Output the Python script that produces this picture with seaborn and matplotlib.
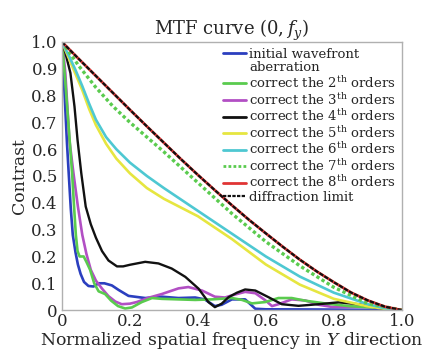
import matplotlib
matplotlib.use("Agg")
import matplotlib.pyplot as plt
import seaborn as sns
from matplotlib.lines import Line2D

# MTF curves (normalized spatial frequency vs contrast)
x_init = [0, 0.008, 0.015, 0.02, 0.026, 0.032, 0.04, 0.047, 0.055, 0.065, 0.078, 0.093, 0.108,
          0.125, 0.147, 0.167, 0.196, 0.245, 0.294, 0.343, 0.392, 0.42, 0.45, 0.47, 0.5, 0.539,
          0.569, 0.6, 0.8, 1.0]
y_init = [1.0, 0.8, 0.62, 0.51, 0.38, 0.28, 0.215, 0.17, 0.135, 0.105, 0.09, 0.088, 0.1,
          0.1, 0.092, 0.075, 0.053, 0.045, 0.05, 0.045, 0.047, 0.04, 0.015, 0.02, 0.04, 0.04,
          0.005, 0.003, 0.002, 0.0]

x_2nd = [0, 0.01, 0.02, 0.03, 0.036, 0.041, 0.046, 0.052, 0.064, 0.072, 0.083, 0.095, 0.108,
         0.127, 0.145, 0.165, 0.186, 0.206, 0.235, 0.265, 0.294, 0.343, 0.392, 0.441, 0.5,
         0.53, 0.559, 0.598, 0.637, 0.676, 0.716, 0.774, 0.843, 0.941, 1.0]
y_2nd = [1.0, 0.85, 0.68, 0.51, 0.38, 0.28, 0.22, 0.2, 0.2, 0.18, 0.15, 0.1, 0.07,
         0.06, 0.035, 0.015, 0.006, 0.01, 0.03, 0.045, 0.042, 0.04, 0.038, 0.04, 0.045,
         0.038, 0.025, 0.03, 0.045, 0.045, 0.035, 0.025, 0.015, 0.008, 0.0]

x_3rd = [0, 0.005, 0.01, 0.022, 0.034, 0.047, 0.06, 0.072, 0.085, 0.1, 0.118, 0.137, 0.157,
         0.176, 0.2, 0.22, 0.255, 0.294, 0.343, 0.372, 0.412, 0.45, 0.48, 0.5, 0.539, 0.569,
         0.598, 0.618, 0.637, 0.676, 0.716, 0.755, 0.794, 0.892, 0.97, 1.0]
y_3rd = [1.0, 0.95, 0.884, 0.634, 0.51, 0.386, 0.28, 0.21, 0.15, 0.11, 0.08, 0.052, 0.032,
         0.022, 0.024, 0.03, 0.046, 0.06, 0.081, 0.086, 0.073, 0.05, 0.047, 0.055, 0.068, 0.063,
         0.037, 0.015, 0.022, 0.04, 0.036, 0.02, 0.012, 0.012, 0.005, 0.0]

x_4th = [0, 0.01, 0.025, 0.037, 0.046, 0.057, 0.07, 0.085, 0.1, 0.118, 0.137, 0.162, 0.18,
         0.2, 0.245, 0.284, 0.323, 0.363, 0.402, 0.431, 0.45, 0.47, 0.49, 0.515, 0.539, 0.569,
         0.608, 0.647, 0.696, 0.755, 0.814, 0.873, 0.941, 1.0]
y_4th = [1.0, 0.96, 0.884, 0.759, 0.634, 0.51, 0.386, 0.32, 0.27, 0.22, 0.185, 0.163, 0.163,
         0.169, 0.18, 0.174, 0.155, 0.124, 0.08, 0.03, 0.011, 0.024, 0.048, 0.065, 0.077, 0.073,
         0.048, 0.022, 0.016, 0.022, 0.029, 0.022, 0.006, 0.0]

x_56 = [0, 0.02, 0.04, 0.06, 0.08, 0.1, 0.13, 0.16, 0.2, 0.25, 0.3, 0.4, 0.5, 0.6, 0.7, 0.8,
        0.9, 0.95, 1.0]
y_5th = [1.0, 0.94, 0.88, 0.82, 0.75, 0.69, 0.62, 0.565, 0.51, 0.455, 0.415, 0.35, 0.265,
         0.17, 0.095, 0.042, 0.014, 0.005, 0.0]
y_6th = [1.0, 0.95, 0.895, 0.835, 0.77, 0.71, 0.645, 0.6, 0.55, 0.5, 0.455, 0.37, 0.285,
         0.2, 0.125, 0.065, 0.022, 0.007, 0.0]

x_7th = [0, 0.05, 0.1, 0.15, 0.2, 0.3, 0.4, 0.5, 0.6, 0.7, 0.8, 0.9, 1.0]
y_7th = [1.0, 0.91, 0.83, 0.76, 0.70, 0.59, 0.475, 0.36, 0.255, 0.165, 0.085, 0.025, 0.0]

x_diff = [0, 0.05, 0.1, 0.15, 0.2, 0.25, 0.3, 0.35, 0.4, 0.45, 0.5, 0.55, 0.6, 0.65, 0.7,
          0.75, 0.8, 0.85, 0.9, 0.95, 1.0]
y_diff = [1.0, 0.936, 0.873, 0.81, 0.747, 0.685, 0.624, 0.563, 0.504, 0.447, 0.391, 0.337,
          0.286, 0.236, 0.188, 0.144, 0.104, 0.066, 0.036, 0.013, 0.0]
y_8th = y_diff

labels = ["initial wavefront", "aberration",
          r"correct the 2$^{\mathrm{th}}$ orders", r"correct the 3$^{\mathrm{th}}$ orders",
          r"correct the 4$^{\mathrm{th}}$ orders", r"correct the 5$^{\mathrm{th}}$ orders",
          r"correct the 6$^{\mathrm{th}}$ orders", r"correct the 7$^{\mathrm{th}}$ orders",
          r"correct the 8$^{\mathrm{th}}$ orders", "diffraction limit"]

sns.set_theme(style="white")
plt.rcParams["font.family"] = ["DejaVu Serif"]
plt.rcParams["mathtext.fontset"] = "dejavuserif"

fig = plt.figure(figsize=(4.33, 3.52), dpi=100)
ax = fig.add_axes([0.143, 0.119, 0.785, 0.762])

c_blue, c_green, c_purple = "#2b3fbf", "#5acb4e", "#b24fc4"
c_black, c_yellow, c_cyan, c_red = "#111111", "#e6e640", "#4ec8d2", "#e03434"

sns.lineplot(x=x_init, y=y_init, ax=ax, color=c_blue, lw=1.9, sort=False)
sns.lineplot(x=x_3rd, y=y_3rd, ax=ax, color=c_purple, lw=1.9, sort=False)
sns.lineplot(x=x_2nd, y=y_2nd, ax=ax, color=c_green, lw=1.9, sort=False)
sns.lineplot(x=x_4th, y=y_4th, ax=ax, color=c_black, lw=1.7, sort=False)
sns.lineplot(x=x_56, y=y_5th, ax=ax, color=c_yellow, lw=1.9, sort=False)
sns.lineplot(x=x_56, y=y_6th, ax=ax, color=c_cyan, lw=1.9, sort=False)
sns.lineplot(x=x_7th, y=y_7th, ax=ax, color=c_green, lw=2.4, ls=(0, (1, 0.8)), sort=False)
sns.lineplot(x=x_diff, y=y_8th, ax=ax, color=c_red, lw=2.0, sort=False)
sns.lineplot(x=x_diff, y=y_diff, ax=ax, color=c_black, lw=1.6, ls=(0, (2, 0.6)), sort=False)

ax.set_xlim(0, 1)
ax.set_ylim(0, 1)
ax.set_xticks([0, 0.2, 0.4, 0.6, 0.8, 1.0])
ax.set_xticklabels(["0", "0.2", "0.4", "0.6", "0.8", "1.0"])
ax.set_yticks([i / 10 for i in range(11)])
ax.set_yticklabels(["0"] + [f"{i / 10:.1f}" for i in range(1, 11)])
ax.tick_params(direction="in", length=2, color="#b0b0b0", labelsize=12, pad=2)
ax.tick_params(axis="y", pad=3)
for s in ax.spines.values():
    s.set_color("#b0b0b0")
    s.set_linewidth(1.0)

ax.set_title(r"MTF curve $(0,f_y)$", fontsize=13, pad=5)
ax.set_xlabel(r"Normalized spatial frequency in $Y$ direction", fontsize=12.4, labelpad=0)
ax.set_ylabel("Contrast", fontsize=12.4, labelpad=2)

handles = [Line2D([], [], color=c_blue, lw=2),
           Line2D([], [], color="none"),
           Line2D([], [], color=c_green, lw=2),
           Line2D([], [], color=c_purple, lw=2),
           Line2D([], [], color=c_black, lw=2),
           Line2D([], [], color=c_yellow, lw=2),
           Line2D([], [], color=c_cyan, lw=2),
           Line2D([], [], color=c_green, lw=2, ls=(0, (1, 0.8))),
           Line2D([], [], color=c_red, lw=2),
           Line2D([], [], color=c_black, lw=1.6, ls=(0, (1.5, 0.6)))]
ax.legend(handles, labels, loc="upper right", frameon=False, fontsize=9.5,
          handlelength=1.75, handletextpad=0.25, labelspacing=0.05,
          borderaxespad=0.35, borderpad=0.1)

fig.savefig("out.png", dpi=100)
